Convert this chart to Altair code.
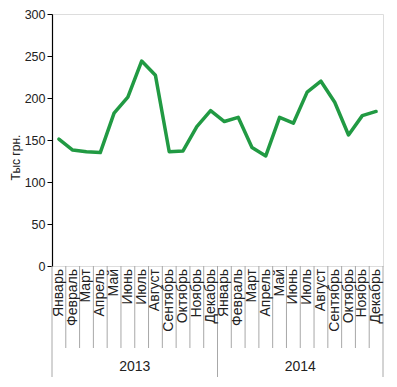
import altair as alt
import pandas as pd

months = ["Январь", "Февраль", "Март", "Апрель", "Май", "Июнь", "Июль",
          "Август", "Сентябрь", "Октябрь", "Ноябрь", "Декабрь"]
years = ["2013", "2014"]
values_2013 = [151, 138, 136, 135, 182, 201, 244, 227, 136, 137, 166, 185]
values_2014 = [172, 177, 141, 131, 177, 170, 207, 220, 195, 156, 179, 184]
y_ticks = [0, 50, 100, 150, 200, 250, 300]

rows = []
for yi, (yr, vals) in enumerate(zip(years, [values_2013, values_2014])):
    for mi, (m, v) in enumerate(zip(months, vals)):
        idx = yi * 12 + mi
        rows.append({"pos": idx + 0.5, "month": m, "year": yr, "value": v})
df = pd.DataFrame(rows)

sep = pd.DataFrame({"b": list(range(25))})
sep["long"] = sep["b"] % 12 == 0
year_df = pd.DataFrame({"ypos": [6, 18], "year": years})

W, H = 331, 252
GREEN = "#219a43"
GRAY = "#a8a8a8"
TXT = "#222222"
FONT = "Liberation Sans"

xscale = alt.Scale(domain=[0, 24], nice=False, zero=False)

line = alt.Chart(df).mark_line(
    color=GREEN, strokeWidth=3.5, strokeJoin="round", strokeCap="round"
).encode(
    x=alt.X("pos:Q", scale=xscale,
            axis=alt.Axis(labels=False, ticks=False, title=None, grid=False,
                          domainColor="black", domainWidth=1.2)),
    y=alt.Y("value:Q", scale=alt.Scale(domain=[0, 300], nice=False),
            axis=alt.Axis(values=y_ticks, grid=False, title="Тыс грн.",
                          domainColor="black", domainWidth=1.2,
                          tickColor="black", tickSize=5, labelPadding=2,
                          labelFontSize=12.5, labelColor=TXT, labelFont=FONT,
                          titleFont=FONT, titleFontSize=12, titleFontWeight="normal",
                          titleColor=TXT, titleAngle=270, titleAlign="center",
                          titleBaseline="bottom", titleX=-30, titleY=143)),
)

month_labels = alt.Chart(df).mark_text(
    angle=270, align="right", baseline="middle", fontSize=14, color=TXT, font=FONT
).encode(
    x=alt.X("pos:Q", scale=xscale, axis=None),
    y=alt.value(H + 3),
    text="month:N",
)

short_rules = alt.Chart(sep[~sep["long"]]).mark_rule(color=GRAY, strokeWidth=1).encode(
    x=alt.X("b:Q", scale=xscale, axis=None),
    y=alt.value(H),
    y2=alt.value(H + 82),
)

long_rules = alt.Chart(sep[sep["long"]]).mark_rule(color=GRAY, strokeWidth=1).encode(
    x=alt.X("b:Q", scale=xscale, axis=None),
    y=alt.value(H),
    y2=alt.value(H + 111),
)

year_labels = alt.Chart(year_df).mark_text(
    baseline="middle", align="center", fontSize=14, color=TXT, font=FONT
).encode(
    x=alt.X("ypos:Q", scale=xscale, axis=None),
    y=alt.value(H + 101),
    text="year:N",
)

chart = alt.layer(short_rules, long_rules, month_labels, year_labels, line).properties(
    width=W, height=H,
    autosize=alt.AutoSizeParams(type="none"),
    padding={"left": 44, "top": 6, "right": 6, "bottom": 118},
).configure_view(stroke=None).configure(font=FONT)

chart.save("out.html", embed_options={"renderer": "svg", "actions": False})
